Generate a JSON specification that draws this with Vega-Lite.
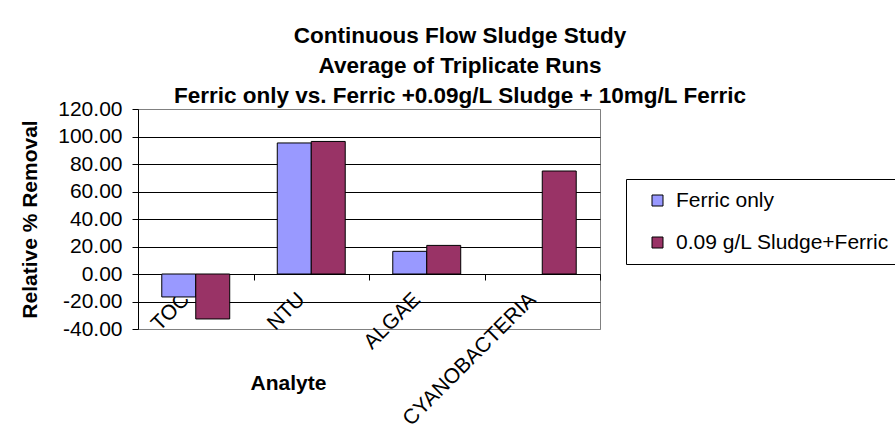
{
  "$schema": "https://vega.github.io/schema/vega-lite/v6.json",
  "width": 462,
  "height": 220,
  "autosize": {"type": "none"},
  "padding": {"left": 138, "top": 109, "right": 295, "bottom": 114},
  "background": "white",
  "config": {
    "font": "Liberation Sans",
    "view": {"stroke": "#808080", "strokeWidth": 1}
  },
  "title": {
    "text": ["Continuous Flow Sludge Study", "Average of Triplicate Runs", "Ferric only vs. Ferric +0.09g/L Sludge + 10mg/L Ferric"],
    "font": "Liberation Sans",
    "fontSize": 22.5,
    "fontWeight": "bold",
    "color": "black",
    "lineHeight": 30,
    "anchor": "middle",
    "frame": "group",
    "dx": 91,
    "offset": -9
  },
  "data": {
    "values": [
      {"analyte": "TOC", "series": "Ferric only", "removal": -16.7},
      {"analyte": "TOC", "series": "0.09 g/L Sludge+Ferric", "removal": -32.7},
      {"analyte": "NTU", "series": "Ferric only", "removal": 95.3},
      {"analyte": "NTU", "series": "0.09 g/L Sludge+Ferric", "removal": 96.4},
      {"analyte": "ALGAE", "series": "Ferric only", "removal": 16.5},
      {"analyte": "ALGAE", "series": "0.09 g/L Sludge+Ferric", "removal": 20.8},
      {"analyte": "CYANOBACTERIA", "series": "0.09 g/L Sludge+Ferric", "removal": 74.9}
    ]
  },
  "mark": {"type": "bar", "stroke": "black", "strokeWidth": 1},
  "encoding": {
    "x": {
      "field": "analyte",
      "type": "nominal",
      "sort": ["TOC", "NTU", "ALGAE", "CYANOBACTERIA"],
      "scale": {"paddingInner": 0, "paddingOuter": 0},
      "axis": {
        "title": "Analyte",
        "titleFont": "Liberation Sans",
        "titleFontSize": 21,
        "titleFontWeight": "bold",
        "titleColor": "black",
        "titleX": 150,
        "titleY": 109,
        "titleBaseline": "middle",
        "titleAlign": "center",
        "offset": -55,
        "domainColor": "black",
        "tickColor": "black",
        "tickSize": 6,
        "tickBand": "extent",
        "labelAngle": -45,
        "labelAlign": "right",
        "labelBaseline": "middle",
        "labelPadding": 16,
        "labelOffset": -10,
        "labelFont": "Liberation Sans",
        "labelFontSize": 21,
        "labelColor": "black",
        "grid": false
      }
    },
    "xOffset": {
      "field": "series",
      "type": "nominal",
      "sort": ["Ferric only", "0.09 g/L Sludge+Ferric"],
      "scale": {"paddingInner": 0, "paddingOuter": 0.7}
    },
    "y": {
      "field": "removal",
      "type": "quantitative",
      "scale": {"domain": [-40, 120], "nice": false, "zero": false},
      "axis": {
        "title": "Relative % Removal",
        "titleFont": "Liberation Sans",
        "titleFontSize": 21,
        "titleFontWeight": "bold",
        "titleColor": "black",
        "titleX": -108,
        "titleY": 110,
        "titleAngle": -90,
        "titleAlign": "center",
        "titleBaseline": "middle",
        "values": [-40, -20, 0, 20, 40, 60, 80, 100, 120],
        "labelExpr": "replace(format(datum.value, '.2f'), '\u2212', '-')",
        "labelFont": "Liberation Sans",
        "labelFontSize": 21,
        "labelColor": "black",
        "labelPadding": 10,
        "tickSize": 6,
        "tickColor": "black",
        "domainColor": "black",
        "grid": true,
        "gridColor": {"condition": {"test": "datum.value == 120 || datum.value == -40", "value": "#808080"}, "value": "black"},
        "gridOpacity": 1
      }
    },
    "color": {
      "field": "series",
      "type": "nominal",
      "sort": ["Ferric only", "0.09 g/L Sludge+Ferric"],
      "scale": {"domain": ["Ferric only", "0.09 g/L Sludge+Ferric"], "range": ["#9999FF", "#993366"]},
      "legend": {
        "title": null,
        "orient": "none",
        "legendX": 488,
        "legendY": 70,
        "strokeColor": "black",
        "fillColor": "white",
        "padding": 11,
        "symbolType": "square",
        "symbolSize": 121,
        "symbolStrokeColor": "black",
        "symbolStrokeWidth": 1,
        "symbolOffset": 10,
        "labelFont": "Liberation Sans",
        "labelFontSize": 21,
        "labelColor": "black",
        "labelOffset": 8,
        "rowPadding": 20,
        "labelLimit": 400
      }
    }
  }
}
